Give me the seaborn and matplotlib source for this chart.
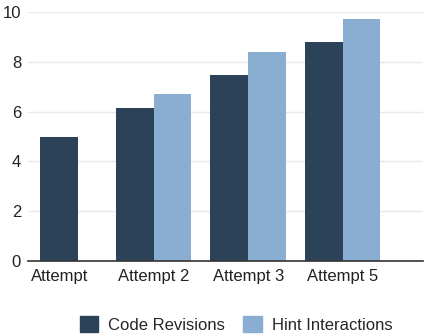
import numpy as np
import pandas as pd
import matplotlib
matplotlib.use("Agg")
import matplotlib.pyplot as plt
import seaborn as sns

attempts = ["Attempt", "Attempt 2", "Attempt 3", "Attempt 5"]
code_revisions = [5.0, 6.15, 7.45, 8.8]
hint_interactions = [np.nan, 6.7, 8.4, 9.7]
series_names = ["Code Revisions", "Hint Interactions"]
palette = {"Code Revisions": "#2b4259", "Hint Interactions": "#8aadd2"}

df = pd.DataFrame({
    "attempt": attempts * 2,
    "series": [series_names[0]] * 4 + [series_names[1]] * 4,
    "value": code_revisions + hint_interactions,
})

sns.set_theme(style="white")
plt.rcParams["font.family"] = ["Liberation Sans", "DejaVu Sans"]

fig = plt.figure(figsize=(4.28, 3.36), dpi=100)
ax = fig.add_axes([28 / 428, 1 - 261 / 336, (423 - 28) / 428, (261 - 12) / 336])

# groups where both series exist get dodged bars, the lone first bar is centred
complete = df.groupby("attempt")["value"].transform(lambda v: v.notna().all())
sns.barplot(data=df[complete], x="attempt", y="value", hue="series",
            order=attempts, hue_order=series_names, palette=palette,
            width=0.8, saturation=1, linewidth=0, ax=ax, legend=False)
lone = df[~complete & df["value"].notna()]
sns.barplot(data=lone, x="attempt", y="value", order=attempts,
            color=palette["Code Revisions"], width=0.4, saturation=1,
            linewidth=0, ax=ax)

ax.set_xlim(-0.33, 3.85)
ax.set_ylim(0, 10)
ax.set_yticks([0, 2, 4, 6, 8, 10])
ax.yaxis.grid(True, color="#e9e9e9", linewidth=1)
ax.set_axisbelow(True)
for side in ["left", "right", "top"]:
    ax.spines[side].set_visible(False)
ax.spines["bottom"].set_color("#333333")
ax.spines["bottom"].set_linewidth(1.2)
ax.tick_params(axis="both", length=0, labelsize=12, colors="#222222")
ax.tick_params(axis="y", pad=5)
ax.tick_params(axis="x", pad=6)
ax.set_xlabel("")
ax.set_ylabel("")

handles = [plt.Rectangle((0, 0), 1, 1, color=palette[s]) for s in series_names]
fig.legend(handles, series_names, loc="lower center", bbox_to_anchor=(236 / 428, -0.035),
           ncol=2, frameon=False, fontsize=12, handlelength=1.1, handleheight=1.1,
           handletextpad=0.6, columnspacing=1.1)

fig.savefig("out.png", dpi=100)
